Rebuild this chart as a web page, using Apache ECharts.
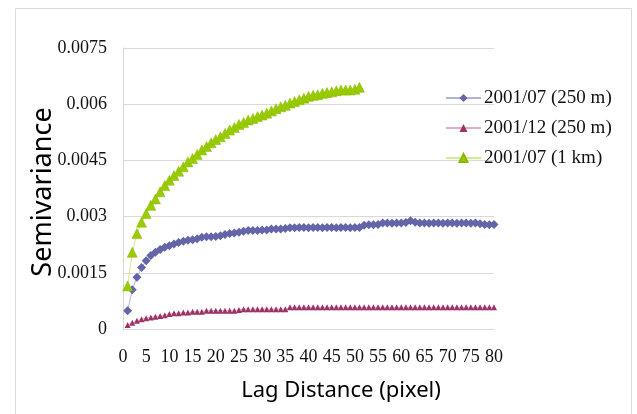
<!DOCTYPE html>
<html><head><meta charset="utf-8">
<script src="https://cdn.jsdelivr.net/npm/echarts@6/dist/echarts.min.js"></script>
<style>html,body{margin:0;padding:0;background:#fff}#c{width:637px;height:414px}</style>
</head><body><div id="c"></div>
<script>
// Semivariogram data (lag distance in pixels)
const seriesNames = ['2001/07 (250 m)', '2001/12 (250 m)', '2001/07 (1 km)'];
const yTicks = [0, 0.0015, 0.003, 0.0045, 0.006, 0.0075];
const xTicks = [0, 5, 10, 15, 20, 25, 30, 35, 40, 45, 50, 55, 60, 65, 70, 75, 80];

const jul250 = [
  0.00049, 0.00105, 0.00138, 0.00164, 0.00182, 0.00196, 0.00205, 0.00212, 0.00218, 0.00222,
  0.00227, 0.00231, 0.00234, 0.00237, 0.00238, 0.00241, 0.00245, 0.00246, 0.00246, 0.00247,
  0.00249, 0.00252, 0.00255, 0.00256, 0.00258, 0.00261, 0.00263, 0.00263, 0.00263, 0.00264,
  0.00264, 0.00267, 0.00267, 0.00267, 0.00268, 0.00270, 0.00270, 0.00271, 0.00271, 0.00270,
  0.00271, 0.00271, 0.00270, 0.00271, 0.00271, 0.00270, 0.00271, 0.00271, 0.00270, 0.00271,
  0.00271, 0.00277, 0.00278, 0.00278, 0.00279, 0.00283, 0.00283, 0.00282, 0.00283, 0.00283,
  0.00284, 0.00289, 0.00285, 0.00283, 0.00283, 0.00282, 0.00283, 0.00283, 0.00282, 0.00283,
  0.00283, 0.00282, 0.00283, 0.00283, 0.00282, 0.00283, 0.00281, 0.00279, 0.00278, 0.00279
];
const dec250 = [
  0.00011, 0.00017, 0.00022, 0.00026, 0.00029, 0.00031, 0.00033, 0.00035, 0.00037, 0.00040,
  0.00042, 0.00042, 0.00044, 0.00044, 0.00046, 0.00046, 0.00046, 0.00049, 0.00049, 0.00049,
  0.00049, 0.00049, 0.00049, 0.00049, 0.00051, 0.00053, 0.00053, 0.00053, 0.00053, 0.00053,
  0.00053, 0.00053, 0.00053, 0.00053, 0.00053, 0.00058, 0.00058, 0.00058, 0.00058, 0.00058,
  0.00058, 0.00058, 0.00058, 0.00058, 0.00058, 0.00058, 0.00058, 0.00058, 0.00058, 0.00058,
  0.00058, 0.00058, 0.00058, 0.00058, 0.00058, 0.00058, 0.00058, 0.00058, 0.00058, 0.00058,
  0.00058, 0.00058, 0.00058, 0.00058, 0.00058, 0.00058, 0.00058, 0.00058, 0.00058, 0.00058,
  0.00058, 0.00058, 0.00058, 0.00058, 0.00058, 0.00058, 0.00058, 0.00058, 0.00058, 0.00058
];
const jul1km = [
  0.00115, 0.00205, 0.00255, 0.00285, 0.00308, 0.00330, 0.00347, 0.00366, 0.00383, 0.00397,
  0.00410, 0.00421, 0.00433, 0.00446, 0.00455, 0.00466, 0.00478, 0.00487, 0.00497, 0.00506,
  0.00513, 0.00522, 0.00531, 0.00538, 0.00546, 0.00551, 0.00558, 0.00562, 0.00567, 0.00571,
  0.00576, 0.00582, 0.00588, 0.00593, 0.00597, 0.00603, 0.00607, 0.00612, 0.00616, 0.00621,
  0.00624, 0.00625, 0.00629, 0.00631, 0.00633, 0.00636, 0.00638, 0.00638, 0.00638, 0.00640,
  0.00645
];

function pairs(arr) { return arr.map((v, i) => [i + 1, v]); }

const chart = echarts.init(document.getElementById('c'), null, {renderer: 'canvas'});
const serif = '"Liberation Serif", "DejaVu Serif", serif';
const sans = '"Noto Sans", "Open Sans", sans-serif';
const gridColor = '#d9d9d9';

chart.setOption({
  animation: false,
  backgroundColor: '#fff',
  grid: {left: 123, right: 143, top: 48, bottom: 85, containLabel: false},
  xAxis: {
    type: 'value', min: xTicks[0], max: xTicks[xTicks.length - 1], interval: 5,
    axisLine: {show: true, onZero: false, lineStyle: {color: gridColor, width: 1}},
    axisTick: {show: false},
    splitLine: {show: false},
    axisLabel: {color: '#111', fontFamily: serif, fontSize: 18, margin: 19}
  },
  yAxis: {
    type: 'value', min: yTicks[0], max: yTicks[yTicks.length - 1], interval: 0.0015,
    axisLine: {show: true, lineStyle: {color: gridColor, width: 1}},
    axisTick: {show: false},
    splitLine: {show: true, lineStyle: {color: gridColor, width: 1}},
    axisLabel: {
      color: '#111', fontFamily: serif, fontSize: 18, margin: 16,
      formatter: v => String(parseFloat(v.toFixed(4)))
    }
  },
  legend: {
    orient: 'vertical', left: 445, top: 88, itemGap: 10, padding: 0,
    itemWidth: 35, itemHeight: 10,
    textStyle: {fontFamily: serif, fontSize: 19, color: '#111', lineHeight: 20, padding: [0, 0, 0, -2]},
    data: seriesNames
  },
  graphic: [
    {type: 'rect', shape: {x: 15.5, y: 8.5, width: 616, height: 420},
     style: {fill: null, stroke: gridColor, lineWidth: 1}, silent: true, z: -1},
    {type: 'text', x: 43, y: 192, rotation: Math.PI / 2,
     style: {text: 'Semivariance', font: '27px ' + sans, fill: '#000', align: 'center', verticalAlign: 'middle'}},
    {type: 'text', x: 341, y: 391,
     style: {text: 'Lag Distance (pixel)', font: '22px ' + sans, fill: '#000', align: 'center', verticalAlign: 'middle'}}
  ],
  series: [
    {name: seriesNames[0], type: 'line', data: pairs(jul250),
     symbol: 'diamond', symbolSize: 9,
     itemStyle: {color: '#6464a8'},
     lineStyle: {color: '#b3b3da', width: 1}},
    {name: seriesNames[1], type: 'line', data: pairs(dec250),
     symbol: 'triangle', symbolSize: 6,
     itemStyle: {color: '#9c3367'},
     lineStyle: {color: '#dcb0c6', width: 1}},
    {name: seriesNames[2], type: 'line', data: pairs(jul1km),
     symbol: 'triangle', symbolSize: 10,
     itemStyle: {color: '#99cc00', borderColor: '#88b800', borderWidth: 0.5},
     lineStyle: {color: '#d4ea90', width: 1}}
  ]
});
</script></body></html>
